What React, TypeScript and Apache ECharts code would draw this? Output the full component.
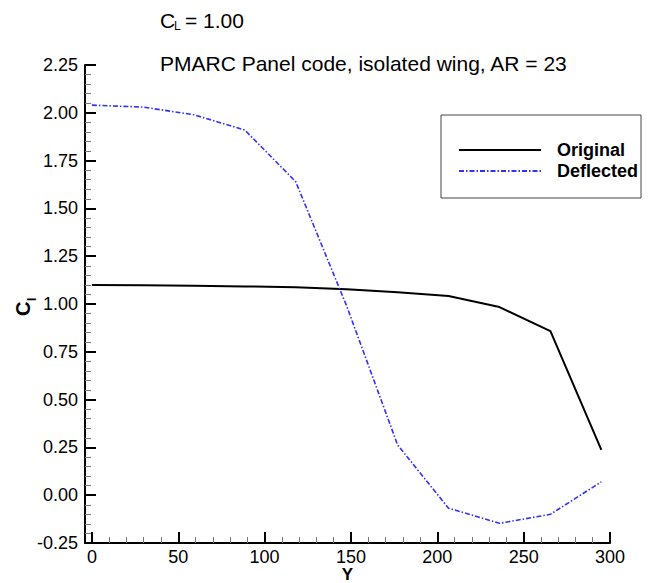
import React, { useEffect, useRef } from "react";
import * as echarts from "echarts";

const spanY: number[] = [0, 29.5, 59, 88.5, 118, 147.5, 177, 206.5, 236, 265.5, 295];
const originalCl: number[] = [1.1, 1.098, 1.095, 1.092, 1.087, 1.077, 1.062, 1.042, 0.984, 0.858, 0.237];
const deflectedCl: number[] = [2.04, 2.03, 1.99, 1.91, 1.64, 0.99, 0.263, -0.068, -0.147, -0.1, 0.07];
const xMajorTicks: number[] = [0, 50, 100, 150, 200, 250, 300];
const xMinorTicks: number[] = [
  10, 20, 30, 40, 60, 70, 80, 90, 110, 120, 130, 140, 160, 170, 180, 190,
  210, 220, 230, 240, 260, 270, 280, 290,
];
const seriesNames: string[] = ["Original", "Deflected"];

const FONT = "'Liberation Sans', Arial, Helvetica, sans-serif";

export default function App() {
  const ref = useRef<HTMLDivElement>(null);
  useEffect(() => {
    if (!ref.current) return;
    const chart = echarts.init(ref.current, undefined, { renderer: "svg" });
    const gridPos = { left: 85, right: 42, top: 65, bottom: 40, containLabel: false, outerBoundsMode: "none" };
    chart.setOption({
      animation: false,
      backgroundColor: "#ffffff",
      textStyle: { fontFamily: FONT },
      grid: [{ ...gridPos }, { ...gridPos }],
      xAxis: [
        {
          type: "value",
          gridIndex: 0,
          min: -4,
          max: 300,
          name: "Y",
          nameLocation: "middle",
          nameGap: 23,
          nameMoveOverlap: false,
          nameTextStyle: { fontFamily: FONT, fontSize: 17, fontWeight: "bold", color: "#000", lineHeight: 17 },
          axisLine: { show: true, onZero: false, lineStyle: { color: "#000", width: 2 } },
          axisTick: { show: true, inside: true, length: 11, customValues: xMajorTicks, lineStyle: { color: "#000", width: 2 } },
          axisLabel: { show: true, customValues: xMajorTicks, margin: 6, fontSize: 18, lineHeight: 15, color: "#000", fontFamily: FONT },
          splitLine: { show: false },
        },
        {
          type: "value",
          gridIndex: 1,
          min: -4,
          max: 300,
          axisLine: { show: false, onZero: false },
          axisTick: { show: true, inside: true, length: 6, customValues: xMinorTicks, lineStyle: { color: "#777", width: 1 } },
          axisLabel: { show: false },
          splitLine: { show: false },
        },
      ],
      yAxis: [
        {
          type: "value",
          gridIndex: 0,
          min: -0.25,
          max: 2.25,
          interval: 0.25,
          axisLine: { show: true, onZero: false, lineStyle: { color: "#000", width: 2 } },
          axisTick: { show: true, inside: true, length: 11, lineStyle: { color: "#000", width: 2 } },
          minorTick: { show: true, splitNumber: 5, length: 6, lineStyle: { color: "#777", width: 1 } },
          axisLabel: {
            margin: 7,
            fontSize: 18,
            color: "#000",
            fontFamily: FONT,
            formatter: (v: number) => v.toFixed(2),
          },
          splitLine: { show: false },
        },
        {
          type: "value",
          gridIndex: 1,
          min: -0.25,
          max: 2.25,
          show: false,
        },
      ],
      legend: {
        data: seriesNames,
        orient: "vertical",
        left: 441,
        top: 115,
        padding: [26, 3, 18, 17],
        itemWidth: 82,
        itemHeight: 14,
        itemGap: 3,
        borderColor: "#444",
        borderWidth: 1,
        borderRadius: 0,
        backgroundColor: "#fff",
        itemStyle: { opacity: 0 },
        textStyle: { fontFamily: FONT, fontSize: 18, fontWeight: "bold", color: "#000", padding: [0, 0, 0, 11] },
      },
      graphic: [
        { type: "text", x: 160, y: 20, style: { text: "C", font: `21px ${FONT}`, fill: "#000", verticalAlign: "middle" } },
        { type: "text", x: 174, y: 26, style: { text: "L", font: `12px ${FONT}`, fill: "#000", verticalAlign: "middle" } },
        { type: "text", x: 185, y: 20, style: { text: "= 1.00", font: `21px ${FONT}`, fill: "#000", verticalAlign: "middle" } },
        {
          type: "text",
          x: 160,
          y: 63,
          style: { text: "PMARC Panel code, isolated wing, AR = 23", font: `21px ${FONT}`, fill: "#000", verticalAlign: "middle" },
        },
        {
          type: "text",
          x: 13,
          y: 316,
          rotation: Math.PI / 2,
          style: { text: "C", font: `bold 20px ${FONT}`, fill: "#000" },
        },
        {
          type: "text",
          x: 26,
          y: 301,
          rotation: Math.PI / 2,
          style: { text: "l", font: `bold 12px ${FONT}`, fill: "#000" },
        },
      ],
      series: [
        {
          name: seriesNames[0],
          type: "line",
          xAxisIndex: 0,
          yAxisIndex: 0,
          data: spanY.map((y, i) => [y, originalCl[i]]),
          symbol: "none",
          lineStyle: { color: "#000", width: 2 },
          itemStyle: { color: "#000" },
        },
        {
          name: seriesNames[1],
          type: "line",
          xAxisIndex: 0,
          yAxisIndex: 0,
          data: spanY.map((y, i) => [y, deflectedCl[i]]),
          symbol: "none",
          lineStyle: { color: "#3030ff", width: 1.6, type: [5, 2, 1.5, 2] },
          itemStyle: { color: "#3030ff" },
        },
      ],
    });
    return () => chart.dispose();
  }, []);
  return <div ref={ref} style={{ position: "fixed", left: 0, top: 0, width: 652, height: 583 }} />;
}
